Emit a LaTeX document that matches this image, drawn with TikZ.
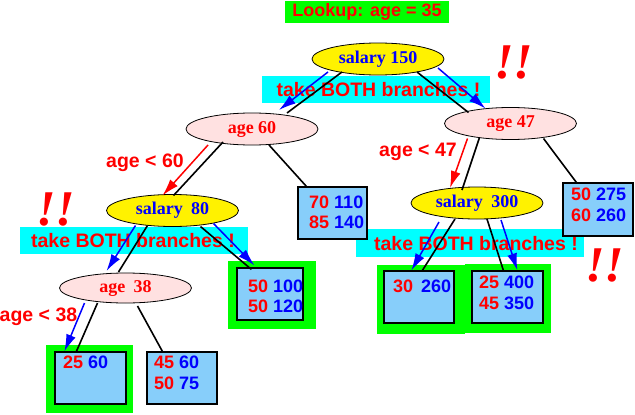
\documentclass[tikz,border=0pt]{standalone}
\usepackage{fontspec}
\setmainfont{Liberation Serif}
\setsansfont{Liberation Sans}
\usetikzlibrary{arrows.meta,calc,shapes.geometric}
\definecolor{cyanb}{RGB}{0,255,255}
\definecolor{greenb}{RGB}{0,255,0}
\definecolor{boxblue}{RGB}{135,206,250}
\definecolor{pinkb}{RGB}{255,225,225}
\definecolor{redt}{RGB}{255,0,0}
\definecolor{bluet}{RGB}{0,0,255}
\newcommand\numpr[2]{\textcolor{redt}{#1} \textcolor{bluet}{#2}}
\begin{document}
\begin{tikzpicture}[x=1pt,y=-1pt,
  ell/.style={ellipse, draw=black, line width=0.8pt, minimum width=132pt, minimum height=32pt, inner sep=0pt, font=\fontsize{18}{20}\bfseries\rmfamily},
  yell/.style={ell, fill=yellow, text=bluet},
  pell/.style={ell, fill=pinkb, text=redt},
  databox/.style={rectangle, draw=black, line width=1.2pt, fill=boxblue, minimum width=70pt, minimum height=52pt, inner sep=0pt},
  frame/.style={rectangle, fill=greenb, inner sep=0pt},
  banner/.style={rectangle, fill=cyanb, inner sep=0pt, minimum width=228pt, minimum height=27pt},
  bantext/.style={font=\fontsize{19.5}{22}\bfseries\sffamily, text=redt, inner sep=0pt},
  cond/.style={font=\fontsize{19.5}{22}\bfseries\sffamily, text=redt, inner sep=0pt},
  nums/.style={font=\fontsize{18}{21}\bfseries\sffamily, inner sep=0pt, anchor=west},
  bang/.style={font=\fontsize{50}{50}\bfseries\itshape\rmfamily, text=redt, inner sep=0pt},
  edge/.style={line width=1.6pt, black},
  bluearr/.style={line width=1.5pt, bluet, -{Latex[length=17pt,width=10pt]}},
  redarr/.style={line width=1.5pt, redt, -{Latex[length=17pt,width=10pt]}},
]
\useasboundingbox (0,0) rectangle (635,415);

% title
\node[rectangle, fill=greenb, minimum width=164pt, minimum height=22pt, inner sep=0pt,
      font=\fontsize{18}{20}\bfseries\sffamily, text=redt] (title) at (367,12) {Lookup: age = 35};

% banners
\node[banner] (c1) at (375.5,89.5) {};
\node[bantext] (c1t) at (378.5,90) {take BOTH branches !};
\node[banner] (c2) at (134,240) {};
\node[bantext] (c2t) at (133,240.5) {take BOTH branches !};
\node[banner, minimum height=28pt] (c3) at (470,243) {};
\node[bantext] (c3t) at (476,243.5) {take BOTH branches !};

% green frames
\node[frame, minimum width=88pt, minimum height=68pt] (g50b) at (272,295) {};
\node[frame, minimum width=87pt, minimum height=68pt] (g25) at (89.5,379) {};
\node[frame, minimum width=88pt, minimum height=69pt] (g30) at (421,299.5) {};
\node[frame, minimum width=86pt, minimum height=69pt] (g254) at (508,298.5) {};

% data boxes
\node[databox, minimum width=69pt] (b70) at (332.5,213) {};
\node[databox, minimum width=70pt, minimum height=53pt] (b50a) at (598,209.5) {};
\node[databox, minimum width=66pt] (b50b) at (270,294) {};
\node[databox, minimum width=71pt] (b25) at (90.5,378) {};
\node[databox] (b45) at (182,378) {};
\node[databox] (b30) at (419,297) {};
\node[databox, minimum width=71pt] (b254) at (507.5,297) {};

\node[nums] (t70a) at (309,202) {\numpr{70}{110}};
\node[nums] (t70b) at (309,222) {\numpr{85}{140}};
\node[nums] (t50aa) at (571,194) {\numpr{50}{275}};
\node[nums] (t50ab) at (571,215) {\numpr{60}{260}};
\node[nums] (t50ba) at (248,286) {\numpr{50}{100}};
\node[nums] (t50bb) at (248,306) {\numpr{50}{120}};
\node[nums] (t25) at (63,362) {\numpr{25}{60}};
\node[nums] (t45a) at (154,362) {\numpr{45}{60}};
\node[nums] (t45b) at (154,383) {\numpr{50}{75}};
\node[nums] (t30) at (393,286) {\numpr{30}{\,260}};
\node[nums] (t254a) at (479,282) {\numpr{25}{400}};
\node[nums] (t254b) at (479,303) {\numpr{45}{350}};

% tree nodes
\node[yell] (s150) at (378,59) {salary 150};
\node[pell] (a60) at (252,129) {age 60\hspace{16pt}};
\node[pell] (a47) at (510.5,123.5) {age 47};
\node[yell] (s80) at (172.5,210.5) {salary\hspace{4pt} 80\hspace{4pt}};
\node[yell] (s300) at (477,203) {salary\hspace{4pt} 300\hspace{10pt}};
\node[pell, minimum height=30pt] (a38) at (125.5,288) {age\hspace{4pt} 38\hspace{9pt}};

% black tree edges
\draw[edge] ($(s150)+(-36,13)$) -- ($(a60)+(35,-16)$);
\draw[edge] ($(s150)+(39,13)$) -- ($(a47)+(-42,-11)$);
\draw[edge] ($(a60)+(-29,13)$) -- ($(s80)+(1,-15)$);
\draw[edge] ($(a60)+(17,16)$) -- ($(b70.north west)+(9,0)$);
\draw[edge] ($(a47)+(-31,14)$) -- ($(s300)+(-15,-13)$);
\draw[edge] ($(a47)+(33,15)$) -- ($(b50a.north west)+(14,0)$);
\draw[edge] ($(s80)+(-25,15)$) -- ($(a38)+(-7,-16)$);
\draw[edge] ($(s80)+(28,16)$) -- ($(b50b.north west)+(15,2)$);
\draw[edge] ($(a38)+(-28,15)$) -- ($(b25.north west)+(22,0)$);
\draw[edge] ($(a38)+(12,18)$) -- ($(b45.north west)+(16,0)$);
\draw[edge] ($(s300)+(-22,16)$) -- ($(b30.north west)+(39,0)$);
\draw[edge] ($(s300)+(10,16)$) -- ($(b254.north west)+(32,0)$);

% search arrows
\draw[bluearr] ($(s150)+(-50,13)$) -- ($(a60)+(27,-19)$);
\draw[bluearr] ($(s150)+(60,9)$) -- ($(a47)+(-25,-15)$);
\draw[bluearr] ($(s80)+(-37,15)$) -- ($(a38)+(-19,-17)$);
\draw[bluearr] ($(s80)+(41,13)$) -- ($(b50b.north west)+(18,-2)$);
\draw[bluearr] ($(a38)+(-41,15)$) -- ($(b25.north west)+(10,0)$);
\draw[bluearr] ($(s300)+(-38,19)$) -- ($(b30.north west)+(28,0)$);
\draw[bluearr] ($(s300)+(24,17)$) -- ($(b254.north west)+(46,0)$);
\draw[redarr] ($(a60)+(-44,16)$) -- ($(s80)+(-10,-15)$);
\draw[redarr] ($(a47)+(-43,15)$) -- ($(s300)+(-27,-15)$);

% condition labels
\node[cond] (l60) at (145,163) {age < 60};
\node[cond] (l47) at (418,152) {age < 47};
\node[cond] (l38) at (38.5,317) {age < 38};

% exclamations
\node[bang] (x1) at (514,62) {!!};
\node[bang] (x2) at (56,209) {!!};
\node[bang] (x3) at (605,265) {!!};
\end{tikzpicture}
\end{document}
